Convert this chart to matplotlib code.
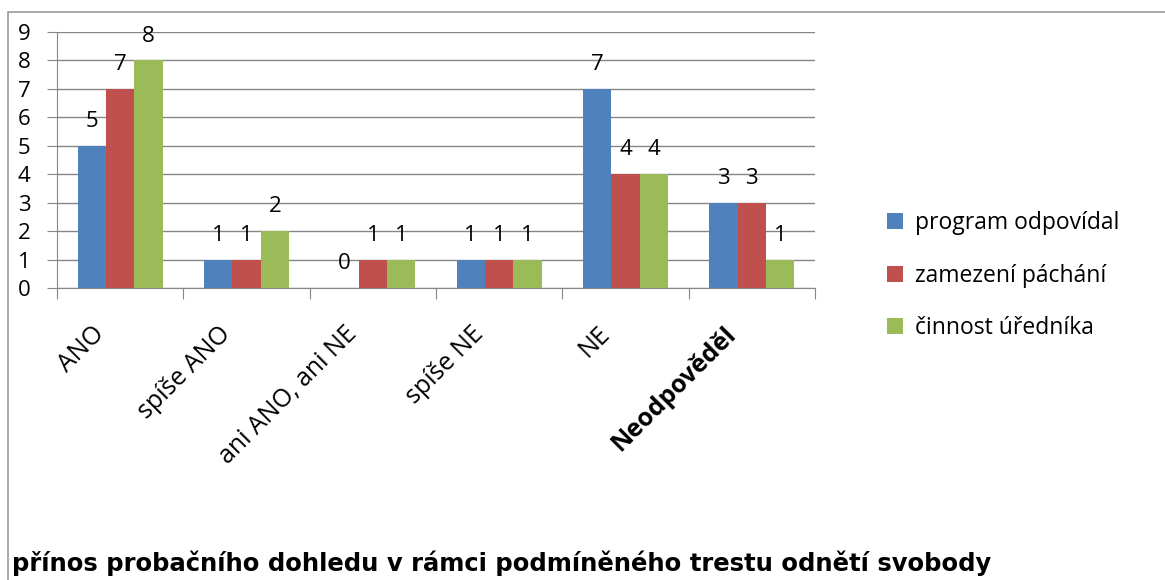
import numpy as np
import matplotlib.pyplot as plt
import matplotlib.transforms as mtrans
from matplotlib.patches import Rectangle

categories = ["ANO", "spíše ANO", "ani ANO, ani NE", "spíše NE", "NE", "Neodpověděl"]
series_names = ["program odpovídal", "zamezení páchání", "činnost úředníka"]
program = [5, 1, 0, 1, 7, 3]
zamezeni = [7, 1, 1, 1, 4, 3]
cinnost = [8, 2, 1, 1, 4, 1]
colors = ["#4F81BD", "#C0504D", "#9BBB59"]
title = "přínos probačního dohledu v rámci podmíněného trestu odnětí svobody"

plt.rcParams['font.family'] = ['Open Sans', 'DejaVu Sans']

fig = plt.figure(figsize=(11.65, 5.8), dpi=100)
ax = fig.add_axes([57/1165, 1 - 288/580, (815-57)/1165, (288-32)/580])

x = np.arange(len(categories))
w = 0.225
for i, (vals, name, c) in enumerate(zip([program, zamezeni, cinnost], series_names, colors)):
    pos = x + (i - 1) * w
    ax.bar(pos, vals, w, color=c, label=name, zorder=3)
    for p, v in zip(pos, vals):
        ax.annotate(str(v), (p, v), xytext=(0, 10), textcoords="offset points",
                    ha="center", va="bottom", fontsize=16)

ax.set_xlim(-0.5, len(categories) - 0.5)
ax.set_ylim(0, 9)
ax.set_yticks(range(10))
ax.tick_params(axis="y", length=7, color="#868686", labelsize=16, pad=12)
ax.yaxis.grid(True, color="#868686", linewidth=1, zorder=0)

ax.set_xticks(np.arange(len(categories) + 1) - 0.5, minor=False)
ax.set_xticklabels([])
ax.tick_params(axis="x", length=8, color="#868686")
ax.set_xticks(x, minor=True)
ax.set_xticklabels(categories, minor=True, rotation=45, ha="right",
                   rotation_mode="anchor", fontsize=18)
ax.tick_params(axis="x", which="minor", length=0, pad=24)
shift = mtrans.ScaledTranslation(-28/100, 0, fig.dpi_scale_trans)
for lbl in ax.get_xticklabels(minor=True):
    lbl.set_transform(lbl.get_transform() + shift)
    if lbl.get_text() == "Neodpověděl":
        lbl.set_fontweight("bold")

for s in ["top", "right"]:
    ax.spines[s].set_visible(False)
ax.spines["left"].set_color("#868686")
ax.spines["bottom"].set_color("#868686")

ax.legend(loc="upper left", bbox_to_anchor=(1.095, 0.30), frameon=False,
          fontsize=16.5, handlelength=0.7, handleheight=0.7, labelspacing=1.25,
          handletextpad=0.5, borderaxespad=0, borderpad=0)

fig.text(12/1165, 1 - 563/580, title, fontsize=17.5, fontweight="bold",
         family=["DejaVu Sans"], va="center")

fig.patches.append(Rectangle((8/1165, -0.1), 1.2, 1 - 12/580 + 0.1,
                             transform=fig.transFigure, fill=False,
                             edgecolor="#9a9a9a", linewidth=1.2))

fig.savefig("out.png", dpi=100)
